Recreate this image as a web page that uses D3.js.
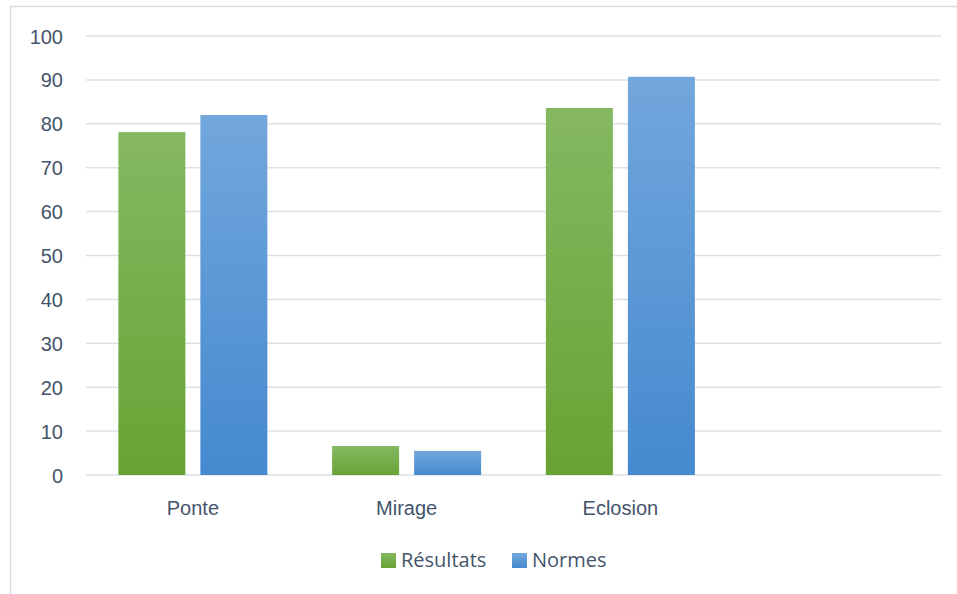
<!DOCTYPE html>
<html>
<head>
<meta charset="utf-8">
<script src="https://cdn.jsdelivr.net/npm/d3@7"></script>
<style>
  body { margin: 0; background: #fff; }
  svg { display: block; font-family: "Open Sans", "Liberation Sans", sans-serif; }
</style>
</head>
<body>
<div class="canvas"></div>
<script>
const categories = ['Ponte', 'Mirage', 'Eclosion', ''];
const seriesNames = ['Résultats', 'Normes'];
const resultats = [78.1, 6.6, 83.6, null];
const normes = [82.0, 5.5, 90.7, null];
const yTicks = [0, 10, 20, 30, 40, 50, 60, 70, 80, 90, 100];

const width = 957, height = 594;
const margin = { top: 36, right: 16, bottom: 119, left: 86 };
const graphWidth = width - margin.left - margin.right;
const graphHeight = height - margin.top - margin.bottom;

const svg = d3.select('.canvas').append('svg')
    .attr('width', width)
    .attr('height', height);

// gradients
const defs = svg.append('defs');
const grads = [
  { id: 'gGreen', top: '#85b862', bottom: '#67a333' },
  { id: 'gBlue', top: '#72a7dc', bottom: '#4589cf' }
];
grads.forEach(g => {
  const lg = defs.append('linearGradient')
      .attr('id', g.id)
      .attr('x1', 0).attr('y1', 0).attr('x2', 0).attr('y2', 1);
  lg.append('stop').attr('offset', '0%').attr('stop-color', g.top);
  lg.append('stop').attr('offset', '100%').attr('stop-color', g.bottom);
});

// chart frame
svg.append('rect')
    .attr('x', 10.5).attr('y', 6.5)
    .attr('width', 960).attr('height', 600)
    .attr('fill', 'none')
    .attr('stroke', '#d9dde3')
    .attr('stroke-width', 1.5);

const graph = svg.append('g')
    .attr('transform', `translate(${margin.left}, ${margin.top})`);

const x = d3.scaleBand()
    .domain(categories.map((d, i) => i))
    .range([0, graphWidth]);

const y = d3.scaleLinear()
    .domain([0, 100])
    .range([graphHeight, 0]);

// gridlines
graph.selectAll('line.grid')
    .data(yTicks)
    .enter()
    .append('line')
    .attr('class', 'grid')
    .attr('x1', 0).attr('x2', graphWidth)
    .attr('y1', d => y(d)).attr('y2', d => y(d))
    .attr('stroke', '#dde1e7')
    .attr('stroke-width', 1.5);

// y axis
const yAxis = d3.axisLeft(y).tickValues(yTicks).tickSize(0).tickPadding(23);
const yG = graph.append('g').call(yAxis);
yG.select('.domain').remove();
yG.selectAll('text')
    .attr('fill', '#44546a')
    .attr('font-size', '20px')
    .attr('dy', '0.35em');

// x axis
const xAxis = d3.axisBottom(x).tickSize(0).tickPadding(26).tickFormat(i => categories[i]);
const xG = graph.append('g')
    .attr('transform', `translate(0, ${graphHeight})`)
    .call(xAxis);
xG.select('.domain').remove();
xG.selectAll('text')
    .attr('fill', '#44546a')
    .attr('font-size', '20px');

// bars
const barW = 67, barGap = 15;
const series = [resultats, normes];
series.forEach((vals, s) => {
  graph.selectAll(`rect.s${s}`)
      .data(vals.map((v, i) => ({ v, i })).filter(d => d.v != null))
      .enter()
      .append('rect')
      .attr('class', `s${s}`)
      .attr('x', d => {
        const cx = x(d.i) + x.bandwidth() / 2;
        return s === 0 ? cx - barGap / 2 - barW : cx + barGap / 2;
      })
      .attr('y', d => y(d.v))
      .attr('width', barW)
      .attr('height', d => graphHeight - y(d.v))
      .attr('fill', `url(#${grads[s].id})`);
});

// legend
const legend = svg.append('g').attr('transform', 'translate(381, 560)');
const legendX = [0, 131];
seriesNames.forEach((name, i) => {
  const g = legend.append('g').attr('transform', `translate(${legendX[i]}, 0)`);
  g.append('rect')
      .attr('x', 0).attr('y', -7)
      .attr('width', 15).attr('height', 15)
      .attr('fill', `url(#${grads[i].id})`);
  g.append('text')
      .attr('x', 20).attr('y', 7)
      .attr('fill', '#44546a')
      .attr('font-size', '20px')
      .text(name);
});
</script>
</body>
</html>
